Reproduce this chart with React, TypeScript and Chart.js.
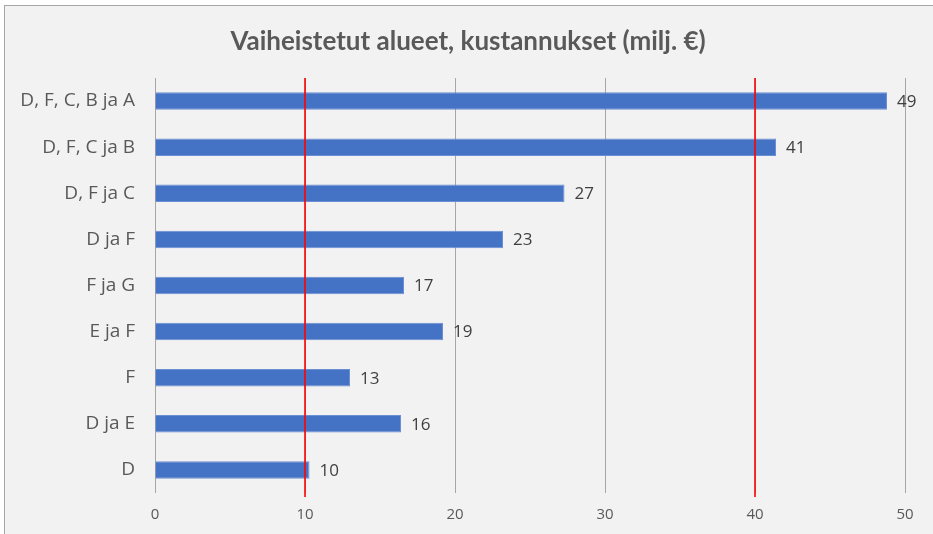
import React, { useEffect, useRef } from "react";
import { Chart, registerables } from "chart.js";

Chart.register(...registerables);

const categories = [
  "D, F, C, B ja A",
  "D, F, C ja B",
  "D, F ja C",
  "D ja F",
  "F ja G",
  "E ja F",
  "F",
  "D ja E",
  "D",
];
const costs = [48.8, 41.4, 27.3, 23.2, 16.6, 19.2, 13.0, 16.4, 10.3];
const thresholds = [10, 40];
const xTicks = [0, 10, 20, 30, 40, 50];
const titleText = "Vaiheistetut alueet, kustannukset (milj. €)";

const W = 933;
const H = 534;
const FONT = "Open Sans, sans-serif";

const bgPlugin = {
  id: "bgFrame",
  beforeDraw(chart: any) {
    const ctx = chart.ctx;
    ctx.save();
    ctx.fillStyle = "#ffffff";
    ctx.fillRect(0, 0, chart.width, chart.height);
    ctx.fillStyle = "#f2f2f2";
    ctx.fillRect(4.5, 5.5, chart.width, chart.height);
    ctx.strokeStyle = "#a6a6a6";
    ctx.lineWidth = 1;
    ctx.strokeRect(4.5, 5.5, chart.width + 10, chart.height + 10);
    ctx.fillStyle = "#595959";
    ctx.font = "bold 26px Lato";
    ctx.textAlign = "center";
    ctx.textBaseline = "middle";
    ctx.fillText(titleText, 468, 42);
    ctx.restore();
  },
};

const overlayPlugin = {
  id: "overlay",
  afterDatasetsDraw(chart: any) {
    const ctx = chart.ctx;
    const xs = chart.scales.x;
    const area = chart.chartArea;
    ctx.save();
    const meta = chart.getDatasetMeta(0);
    ctx.fillStyle = "#404040";
    ctx.font = `17px ${FONT}`;
    ctx.textAlign = "left";
    ctx.textBaseline = "middle";
    meta.data.forEach((el: any, i: number) => {
      ctx.fillText(String(Math.round(costs[i])), el.x + 10, el.y + 1);
    });
    ctx.strokeStyle = "#ff0000";
    ctx.lineWidth = 1.6;
    thresholds.forEach((t) => {
      const x = xs.getPixelForValue(t);
      ctx.beginPath();
      ctx.moveTo(x, area.top);
      ctx.lineTo(x, area.bottom + 4);
      ctx.stroke();
    });
    ctx.restore();
  },
};

export default function App() {
  const ref = useRef<HTMLCanvasElement | null>(null);
  useEffect(() => {
    document.body.style.margin = "0";
    const canvas = ref.current!;
    const chart = new Chart(canvas, {
      type: "bar",
      data: {
        labels: categories,
        datasets: [
          {
            data: costs,
            backgroundColor: "#4472C4",
            borderColor: "#6a8fd4",
            borderWidth: 1,
            barPercentage: 0.76,
            categoryPercentage: 0.5,
          },
        ],
      },
      options: {
        indexAxis: "y",
        responsive: false,
        animation: false,
        layout: { padding: { top: 78, right: 28, bottom: 0, left: 0 } },
        plugins: {
          legend: { display: false },
          title: { display: false },
          tooltip: { enabled: false },
        },
        scales: {
          x: {
            min: 0,
            max: 50,
            afterBuildTicks(scale: any) {
              scale.ticks = xTicks.map((v) => ({ value: v }));
            },
            afterFit(scale: any) {
              scale.height = 41;
            },
            grid: {
              color: "#a6a6a6",
              lineWidth: 1,
              drawTicks: false,
            },
            border: { display: false },
            ticks: {
              padding: 13,
              color: "#595959",
              font: { family: FONT, size: 15 },
            },
          },
          y: {
            afterFit(scale: any) {
              scale.width = 155;
            },
            grid: { display: false, drawTicks: false },
            border: { display: false },
            ticks: {
              padding: 20,
              color: "#595959",
              font: { family: FONT, size: 19 },
            },
          },
        },
      },
      plugins: [bgPlugin, overlayPlugin],
    });
    return () => chart.destroy();
  }, []);
  return (
    <div style={{ width: W, height: H }}>
      <canvas ref={ref} width={W} height={H} style={{ display: "block" }} />
    </div>
  );
}
